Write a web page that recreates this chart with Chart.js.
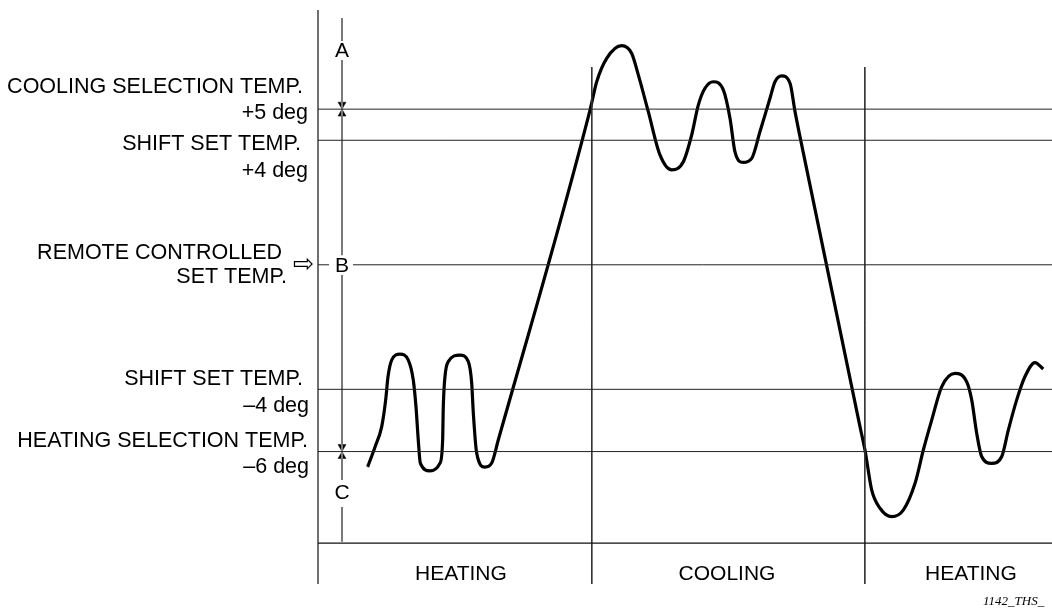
<!DOCTYPE html>
<html>
<head>
<meta charset="utf-8">
<script src="https://cdn.jsdelivr.net/npm/chart.js@4/dist/chart.umd.min.js"></script>
<style>
html,body{margin:0;padding:0;background:#fff;overflow:hidden;}
#wrap{width:1052px;height:610px;position:relative;}
canvas{display:block;}
</style>
</head>
<body>
<div id="wrap"><canvas id="c" width="1052" height="610"></canvas></div>
<script>
// ---- data (time in arbitrary units 0..100, temperature offset in deg from remote set temp) ----
const timeT = [6.77,7.77,8.68,9.22,9.54,10.04,11.17,12.30,12.98,13.35,13.66,13.94,15.26,16.62,16.98,17.07,17.30,17.75,19.35,20.48,20.94,21.16,21.62,22.75,23.66,24.56,
  37.06,37.97,39.33,41.38,42.74,43.64,45.00,46.59,48.19,49.77,50.91,51.81,52.72,53.86,55.22,56.13,56.81,57.94,59.09,60.22,61.58,62.26,63.17,64.31,64.99,65.67,
  73.84,74.52,75.43,76.57,78.16,79.74,81.34,82.47,83.61,84.97,86.78,88.38,89.06,89.74,90.42,91.78,93.15,94.05,95.19,96.32,97.68,98.81];
const tempC = [-6.49,-5.85,-5.20,-4.34,-3.59,-3.06,-2.87,-3.06,-3.70,-4.56,-5.63,-6.37,-6.62,-6.37,-5.63,-4.56,-3.59,-3.11,-2.90,-3.11,-3.80,-4.76,-6.05,-6.50,-6.37,-5.63,
  4.97,5.88,6.63,7.04,6.79,6.10,4.92,3.53,3.05,3.31,4.17,5.13,5.67,5.88,5.62,4.71,3.63,3.29,3.42,4.28,5.35,5.88,6.07,5.83,4.92,4.11,
  -5.20,-5.95,-7.23,-7.82,-8.09,-7.88,-7.02,-5.95,-4.99,-3.92,-3.49,-3.76,-4.34,-5.41,-6.16,-6.38,-6.16,-5.31,-4.34,-3.59,-3.14,-3.35];

const levelValues = [5, 4, 0, -4, -6];
const levelLabels = [
  ["COOLING SELECTION TEMP.", "+5 deg"],
  ["SHIFT SET TEMP.", "+4 deg"],
  ["REMOTE CONTROLLED", "SET TEMP."],
  ["SHIFT SET TEMP.", "\u20134 deg"],
  ["HEATING SELECTION TEMP.", "\u20136 deg"]
];
const modeLabels = ["HEATING", "COOLING", "HEATING"];
const modeBounds = [0, 37.3, 74.5, 100];   // section boundaries (time)
const dimLetters = ["A", "B", "C"];
const dimLetterValues = [6.9, 0, -7.3];
const baseLineValue = -8.94;
const yMax = 8.185, yMin = -10.254;
const dividerTop = 6.35;
const dimX = 3.27;

// ---- build datasets ----
const curve = timeT.map((t, i) => ({x: t, y: tempC[i]}));
const ds = [];
const lineStyle = (data, color, w) => ({data, borderColor: color, borderWidth: w, pointRadius: 0, fill: false, tension: 0, clip: false, spanGaps: false});

// horizontal level lines (B line has a gap around the letter)
levelValues.forEach(v => {
  if (v === 0) {
    ds.push(lineStyle([{x:0,y:v},{x:1.5,y:v},{x:2.5,y:null},{x:4.77,y:v},{x:100,y:v}], '#222', 1));
  } else {
    ds.push(lineStyle([{x:0,y:v},{x:100,y:v}], '#222', 1));
  }
});
// bottom base line
ds.push(lineStyle([{x:0,y:baseLineValue},{x:100,y:baseLineValue}], '#111', 1.2));
// left axis line
ds.push(lineStyle([{x:0,y:yMax},{x:0,y:yMin}], '#111', 1.2));
// section dividers
[modeBounds[1], modeBounds[2]].forEach(b => ds.push(lineStyle([{x:b,y:dividerTop},{x:b,y:yMin}], '#333', 1)));
// dimension line with gaps for letters
ds.push(lineStyle([
  {x:dimX,y:7.93},{x:dimX,y:7.19},{x:dimX,y:null},
  {x:dimX,y:6.58},{x:dimX,y:0.31},{x:dimX,y:null},
  {x:dimX,y:-0.33},{x:dimX,y:-6.91},{x:dimX,y:null},
  {x:dimX,y:-7.78},{x:dimX,y:-8.90}
], '#7a7a7a', 2));
// arrowheads at +5 and -6
const arrowOff = 0.15;
ds.push({data:[{x:dimX,y:5+arrowOff},{x:dimX,y:-6+arrowOff}], showLine:false, pointStyle:'triangle', rotation:180,
  pointRadius:4.6, pointBackgroundColor:'#000', pointBorderColor:'#000', pointBorderWidth:0.5, clip:false});
ds.push({data:[{x:dimX,y:5-arrowOff},{x:dimX,y:-6-arrowOff}], showLine:false, pointStyle:'triangle', rotation:0,
  pointRadius:4.6, pointBackgroundColor:'#000', pointBorderColor:'#000', pointBorderWidth:0.5, clip:false});
// temperature curve
ds.push({data: curve, borderColor:'#000', borderWidth:3.2, pointRadius:0, fill:false, cubicInterpolationMode:'monotone', clip:false, borderJoinStyle:'round', borderCapStyle:'butt'});

const FONT = '21px "Liberation Sans", Arial, sans-serif';
const FONT_L = '21.5px "Liberation Sans", Arial, sans-serif';
const textPlugin = {
  id: 'texts',
  afterDatasetsDraw(chart) {
    const ctx = chart.ctx, xs = chart.scales.x, ys = chart.scales.y;
    ctx.save();
    ctx.fillStyle = '#000';
    ctx.font = FONT_L;
    ctx.textBaseline = 'alphabetic';
    // left labels: [dy line1, right1, dy line2, right2]
    const place = [[-16,303,10,308],[10,301,37,308],[-6,282,18,287],[-4,303,23,309],[-5,308,21,309]];
    levelValues.forEach((v, i) => {
      const y = ys.getPixelForValue(v);
      const p = place[i];
      ctx.textAlign = 'right';
      ctx.fillText(levelLabels[i][0], p[1], y + p[0]);
      ctx.fillText(levelLabels[i][1], p[3], y + p[2]);
    });
    // hollow arrow pointing to B
    ctx.font = '25px "DejaVu Sans", sans-serif';
    ctx.textAlign = 'left';
    ctx.textBaseline = 'middle';
    ctx.fillText('\u21E8', 293, ys.getPixelForValue(0) + 1);
    // dimension letters
    ctx.font = FONT;
    ctx.textAlign = 'center';
    ctx.textBaseline = 'middle';
    const dx = xs.getPixelForValue(dimX);
    dimLetters.forEach((L, i) => ctx.fillText(L, dx, ys.getPixelForValue(dimLetterValues[i]) + 1));
    // mode labels
    ctx.textBaseline = 'alphabetic';
    const centers = [19.48, 55.72, 88.96];
    modeLabels.forEach((m, i) => ctx.fillText(m, xs.getPixelForValue(centers[i]), 580));
    // figure id
    ctx.font = 'italic 13px "Liberation Serif", "Times New Roman", serif';
    ctx.textAlign = 'left';
    ctx.fillText('1142_THS_', 983, 605);
    ctx.restore();
  }
};

new Chart(document.getElementById('c'), {
  type: 'line',
  data: { datasets: ds },
  options: {
    responsive: false,
    devicePixelRatio: 1,
    animation: false,
    events: [],
    layout: { autoPadding: false, padding: { left: 318, right: 0, top: 10, bottom: 26 } },
    plugins: { legend: { display: false }, tooltip: { enabled: false } },
    scales: {
      x: { type: 'linear', min: 0, max: 100, display: false },
      y: { type: 'linear', min: yMin, max: yMax, display: false }
    }
  },
  plugins: [textPlugin]
});
</script>
</body>
</html>
